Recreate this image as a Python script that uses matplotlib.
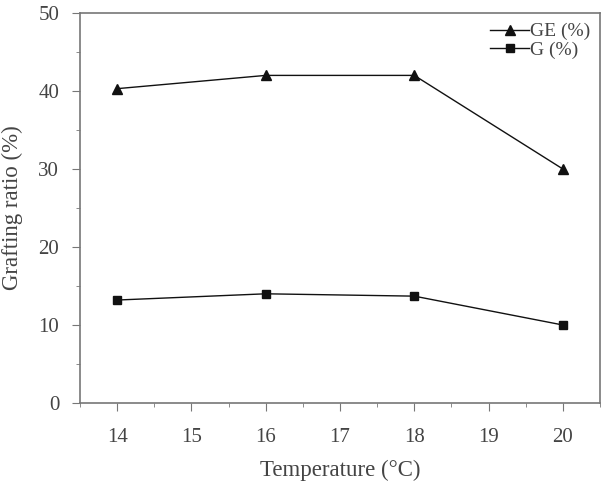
import matplotlib.pyplot as plt
from matplotlib.ticker import MultipleLocator

plt.rcParams['font.family'] = ['Liberation Serif', 'DejaVu Serif']

temperature = [14, 16, 18, 20]
ge = [40.3, 42.0, 42.0, 30.0]
g = [13.2, 14.0, 13.7, 10.0]

text_color = '#444444'
axis_color = '#777777'

fig = plt.figure(figsize=(6.02, 4.83), dpi=100)
ax = fig.add_axes([80 / 602, 80 / 483, 520 / 602, 390 / 483])

ax.plot(temperature, ge, color='#111111', lw=1.0, marker='^', ms=7, label='GE (%)')
ax.plot(temperature, g, color='#111111', lw=1.0, marker='s', ms=6, label='G (%)')

ax.set_xlim(13.5, 20.5)
ax.set_ylim(0, 50)
ax.xaxis.set_major_locator(MultipleLocator(1))
ax.xaxis.set_minor_locator(MultipleLocator(0.5))
ax.yaxis.set_major_locator(MultipleLocator(10))
ax.yaxis.set_minor_locator(MultipleLocator(5))
ax.tick_params(which='both', direction='out', top=False, right=False,
               colors=axis_color, labelcolor=text_color, labelsize=15)
ax.tick_params(which='major', length=6)
ax.tick_params(axis='x', which='major', pad=12)
ax.tick_params(axis='y', which='major', pad=9)
ax.tick_params(which='minor', length=3)
for s in ax.spines.values():
    s.set_color(axis_color)
    s.set_linewidth(1.2)

ax.set_xlabel('Temperature (°C)', fontsize=16.5, color=text_color, labelpad=9)
ax.set_ylabel('Grafting ratio (%)', fontsize=16.5, color=text_color, labelpad=11)

leg = ax.legend(loc='upper right', frameon=False, fontsize=14, handlelength=2.0,
                handletextpad=0.05, labelspacing=0.05, borderaxespad=0.1)
for t in leg.get_texts():
    t.set_color(text_color)

fig.savefig('out.png', dpi=100)
